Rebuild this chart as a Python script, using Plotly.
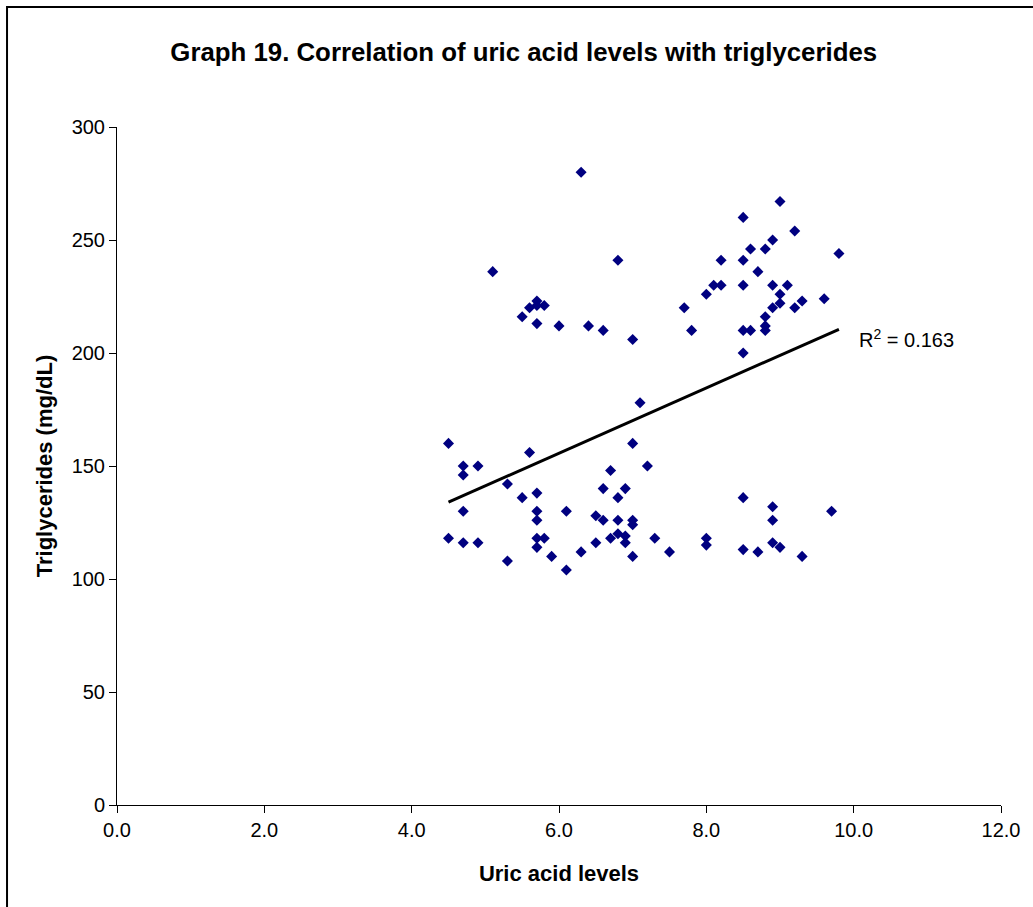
import plotly.graph_objects as go

# Uric acid levels (x) and triglycerides (y)
uric_acid = [
    6.3, 6.8, 5.1,
    9.0, 8.5, 9.2, 8.9, 8.6, 8.8, 9.8, 8.2, 8.5, 8.7,
    8.1, 8.2, 8.5, 8.9, 9.1, 8.0, 9.0, 9.3, 9.6,
    7.7, 8.9, 9.0, 9.2, 8.8, 8.8, 8.8, 8.5, 8.6, 7.8, 8.5, 7.1,
    5.7, 5.7, 5.6, 5.8, 5.5, 5.7, 6.0, 6.4, 6.6, 7.0,
    4.5, 5.6, 7.0, 4.7, 4.9, 4.7, 6.7, 7.2, 5.3, 6.6, 6.9,
    5.5, 5.7, 6.8, 4.7, 5.7, 6.1, 6.5, 6.6, 6.8, 7.0, 7.0, 5.7,
    4.5, 4.7, 4.9, 5.7, 5.8, 5.7, 5.3, 5.9, 6.1, 6.3, 6.5, 6.7,
    6.8, 6.9, 6.9, 7.0,
    7.3, 7.5, 8.0, 8.0, 8.5, 8.5, 8.7, 8.9, 8.9, 8.9, 9.0, 9.3, 9.7,
]
triglycerides = [
    280, 241, 236,
    267, 260, 254, 250, 246, 246, 244, 241, 241, 236,
    230, 230, 230, 230, 230, 226, 226, 223, 224,
    220, 220, 222, 220, 216, 212, 210, 210, 210, 210, 200, 178,
    223, 221, 220, 221, 216, 213, 212, 212, 210, 206,
    160, 156, 160, 150, 150, 146, 148, 150, 142, 140, 140,
    136, 138, 136, 130, 130, 130, 128, 126, 126, 126, 124, 126,
    118, 116, 116, 118, 118, 114, 108, 110, 104, 112, 116, 118,
    120, 119, 116, 110,
    118, 112, 118, 115, 136, 113, 112, 132, 126, 116, 114, 110, 130,
]

# Linear trendline endpoints as drawn in the chart
trend_x = [4.5, 9.8]
trend_y = [134, 210.5]
r_squared = "0.163"

x_ticks = [0, 2, 4, 6, 8, 10, 12]
y_ticks = [0, 50, 100, 150, 200, 250, 300]

FONT = "Liberation Sans, Arial, sans-serif"

fig = go.Figure()
fig.add_trace(go.Scatter(
    x=uric_acid, y=triglycerides, mode="markers",
    marker=dict(symbol="diamond", size=8.5, color="#000080",
                line=dict(width=0)),
    showlegend=False, hoverinfo="x+y",
))
fig.add_trace(go.Scatter(
    x=trend_x, y=trend_y, mode="lines",
    line=dict(color="black", width=3),
    showlegend=False, hoverinfo="skip",
))

fig.add_annotation(
    x=10.05, y=206.6, xref="x", yref="y",
    text=f"R<sup>2</sup> = {r_squared}", showarrow=False,
    xanchor="left", yanchor="middle",
    font=dict(family=FONT, size=20, color="black"),
)

# Outer frame of the chart area (cut off at right and bottom)
fig.add_shape(
    type="rect", xref="paper", yref="paper",
    x0=-0.1244, x1=1.2, y0=-0.3, y1=1.177,
    line=dict(color="black", width=2), fillcolor="rgba(0,0,0,0)",
    layer="below",
)

fig.update_layout(
    width=1033, height=907,
    margin=dict(l=117, r=32, t=127, b=102),
    paper_bgcolor="white", plot_bgcolor="white",
    font=dict(family=FONT, color="black", size=20),
    title=dict(
        text="<b>Graph 19. Correlation of uric acid levels with triglycerides</b>",
        x=0.507, xref="container", xanchor="center",
        y=1 - 52 / 907, yref="container", yanchor="middle",
        font=dict(size=25.8, family=FONT, color="black"),
    ),
    xaxis=dict(
        range=[0, 12], tickvals=x_ticks,
        ticktext=[f"{v:.1f}" for v in x_ticks],
        showgrid=False, zeroline=False,
        showline=True, linecolor="black", linewidth=1,
        ticks="outside", ticklen=7, tickcolor="black", tickwidth=1,
        tickfont=dict(size=20), fixedrange=True,
        title=dict(text="<b>Uric acid levels</b>", font=dict(size=22), standoff=25),
    ),
    yaxis=dict(
        range=[0, 300], tickvals=y_ticks,
        showgrid=False, zeroline=False,
        showline=True, linecolor="black", linewidth=1,
        ticks="outside", ticklen=7, tickcolor="black", tickwidth=1,
        tickfont=dict(size=20), fixedrange=True,
        title=dict(text="<b>Triglycerides (mg/dL)</b>", font=dict(size=22), standoff=12),
    ),
)

fig.write_html(
    "out.html",
    config={"displayModeBar": False},
    post_script="document.body.style.margin='0';document.body.style.overflow='hidden';",
)
